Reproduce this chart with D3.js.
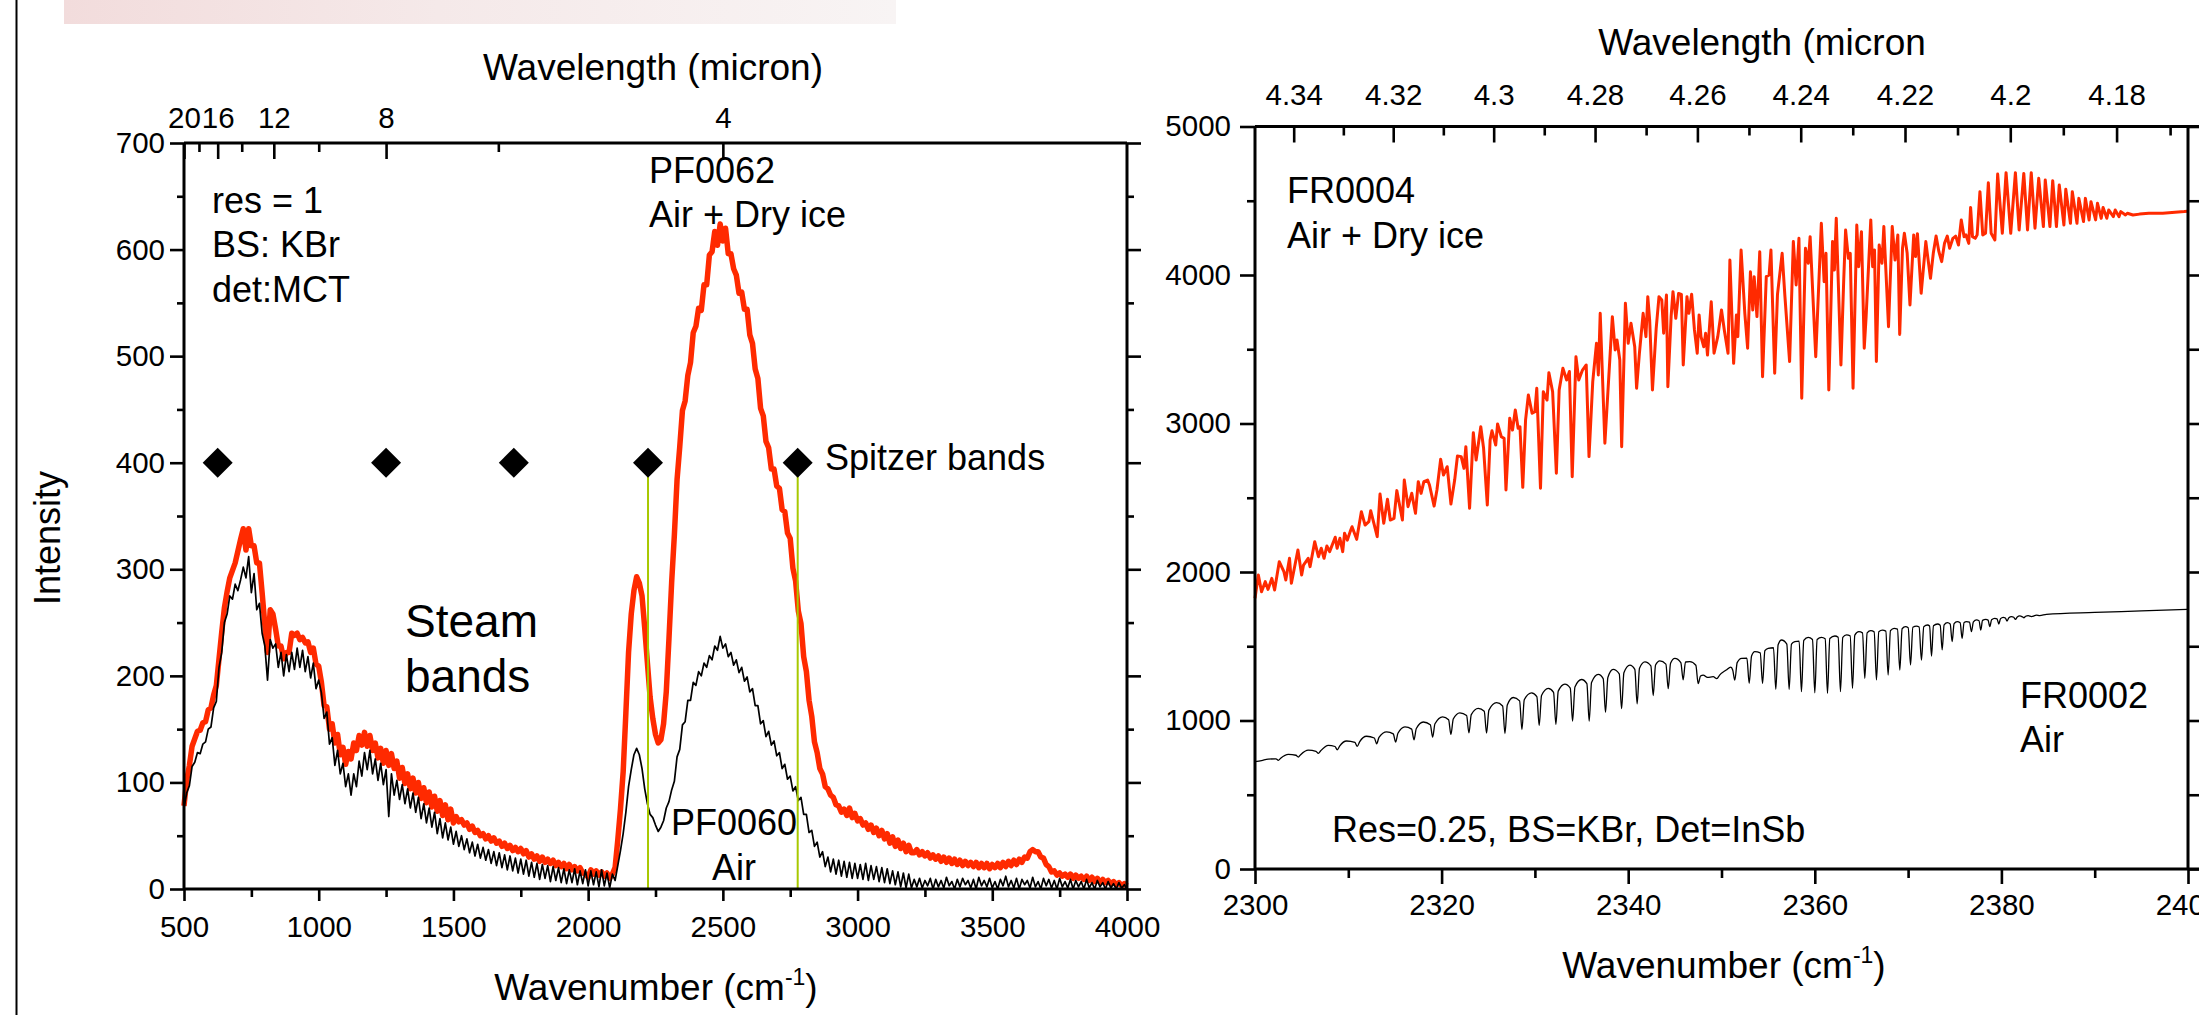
<!DOCTYPE html>
<html>
<head>
<meta charset="utf-8">
<script src="https://cdn.jsdelivr.net/npm/d3@7"></script>
<style>
  body { margin: 0; background: #fff; }
  svg { display: block; }
</style>
</head>
<body>
<svg id="chart" width="2199" height="1015"></svg>
<script>
// ---------- Left panel: broadband spectra, sampled every 10 cm-1 from 500 to 4000 ----------
const broadStart = 500, broadStep = 10;

// PF0060, Air
const pf0060 = [
  76, 90, 97, 115, 119, 128, 127, 136, 138, 150, 152, 170, 176, 208, 222, 250, 258, 275, 272, 286, 280,
  290, 302, 292, 312, 278, 296, 262, 268, 240, 228, 196, 234, 226, 230, 208, 222, 200, 220, 204, 222,
  206, 226, 208, 224, 204, 218, 198, 212, 188, 196,
  184, 160, 166, 136, 142, 116, 130, 108, 118, 96, 108, 88, 108, 96, 120, 106, 128, 112, 130, 108,
  122, 102, 118, 98, 112, 68, 108, 88, 102, 84, 98, 80, 94, 76, 90, 72, 86, 66, 80, 62,
  76, 58, 72, 52, 66, 48, 62, 46, 58, 42,
  54, 40, 50, 37, 47, 34, 44, 31, 42, 29, 39, 27, 37, 24, 35, 22, 34, 20, 32, 18,
  31, 17, 29, 15, 28, 14, 27, 12, 25, 11, 24, 9, 23, 10, 22, 7, 21, 8, 20, 6,
  19, 5, 18, 6, 19, 4, 17, 5, 18, 3, 17, 4, 16, 2, 18, 3, 15, 1, 14, 8,
  22, 36, 52, 72, 96, 112, 126, 132, 126, 113, 94, 80, 70, 67, 60, 54, 58, 64, 76, 82,
  93, 101, 124, 131, 154, 157, 177, 177, 194, 191, 204, 200, 212, 208, 219, 215, 228, 224, 237, 226,
  230, 218, 222, 210, 215, 203, 208, 195, 199, 185, 188, 172, 172, 155, 158, 143, 148, 135, 139, 125,
  128, 113, 117, 103, 106, 92, 96, 83, 86, 70,
  70, 53, 55, 40, 44, 30, 35, 21, 30, 16, 28, 14, 27, 12, 26, 11, 25, 10, 24, 10,
  23, 9, 24, 8, 22, 9, 21, 7, 20, 6, 19, 5, 17, 4, 16, 2, 15, 1, 14, 1,
  9, 2, 10, 1, 8, 3, 10, 0, 9, 2, 8, 1, 11, 3, 7, 0, 9, 2, 10, 4,
  8, 1, 9, 0, 11, 3, 8, 2, 10, 1, 7, 0, 9, 3, 12, 2, 8, 1, 10, 0,
  9, 4, 8, 1, 11, 2, 7, 0, 10, 3, 9, 1, 8, 0, 10, 2, 7, 1, 9, 0,
  8, 2, 7, 0, 9, 1, 6, 0, 8, 2, 6, 0, 7, 1, 5, 0, 6, 1, 4, 0
];

// PF0062, Air + Dry ice
const pf0062 = [
  78, 102, 116, 134, 141, 148, 149, 156, 157, 168, 170, 182, 191, 216, 241, 264, 279, 292, 299, 306, 317,
  328, 338, 318, 338, 322, 322, 306, 306, 278, 248, 222, 262, 258, 244, 228, 228, 216, 222, 222, 240,
  238, 240, 234, 236, 231, 232, 222, 226, 211, 209,
  194, 172, 171, 150, 155, 137, 145, 126, 133, 117, 129, 122, 137, 130, 144, 135, 147, 134, 144, 130,
  137, 123, 132, 118, 130, 116, 127, 113, 120, 104, 114, 99, 108, 94, 104, 90, 100, 85, 95, 81,
  91, 77, 87, 73, 83, 69, 79, 65, 75, 62,
  68, 63, 65, 60, 62, 56, 59, 53, 55, 50, 52, 47, 50, 45, 48, 43, 45, 40, 43, 38,
  41, 36, 39, 35, 38, 33, 36, 30, 33, 28, 31, 26, 30, 25, 28, 24, 27, 22, 25, 21,
  24, 19, 23, 18, 21, 17, 20, 15, 14, 11, 18, 14, 17, 13, 16, 12, 15, 10, 14, 20,
  46, 75, 110, 165, 222, 258, 280, 293, 287, 275, 245, 212, 180, 160, 145, 137, 140, 155, 185, 235,
  288, 332, 384, 415, 449, 458, 482, 494, 522, 528, 545, 543, 567, 567, 595, 598, 617, 604, 624, 608,
  620, 596, 596, 582, 576, 559, 560, 544, 544, 520, 512, 488, 479, 451, 444, 420, 414, 394, 394, 378,
  376, 356, 354, 334, 329, 301, 289, 261, 249, 218,
  204, 177, 162, 138, 128, 113, 108, 96, 94, 88, 86, 79, 78, 72, 75, 69, 76, 67, 71, 64,
  66, 60, 62, 56, 60, 53, 57, 50, 55, 47, 52, 43, 49, 40, 46, 38, 43, 35, 41, 34,
  34, 37, 32, 35, 31, 34, 29, 32, 28, 31, 26, 30, 25, 29, 24, 28, 23, 27, 22, 26,
  22, 25, 21, 25, 20, 24, 20, 24, 19, 23, 20, 24, 20, 25, 21, 26, 22, 27, 23, 28,
  25, 30, 29, 35, 37, 35, 35, 30, 29, 23, 21, 16, 17, 13, 15, 12, 14, 11, 14, 10,
  13, 10, 12, 9, 12, 8, 11, 7, 10, 6, 9, 6, 8, 5, 7, 4, 6, 3, 5, 3
];

// Spitzer band centres (micron) marked at intensity 400
const spitzerBands = [16, 8, 5.8, 4.5, 3.6];
const spitzerLevel = 400;
const spitzerLines = [4.5, 3.6];

// Left panel tick sets
const leftBottomMajor = [500, 1000, 1500, 2000, 2500, 3000, 3500, 4000];
const leftBottomMinor = [750, 1250, 1750, 2250, 2750, 3250, 3750];
const leftYMajor = [0, 100, 200, 300, 400, 500, 600, 700];
const leftYMinor = [50, 150, 250, 350, 450, 550, 650];
const leftTopMajor = [20, 16, 12, 8, 4];      // micron
const leftTopMinor = [18, 14, 10, 6];

// ---------- Right panel: high resolution CO2 band, [wavenumber, intensity] ----------
const fr0004 = [
  [2300.0,1823],[2300.36,1980],[2300.7,1867],[2301.1,1935],[2301.4,1883],[2301.8,1957],[2302.1,1879],
  [2302.6,2069],[2303.1,2002],[2303.3,1946],[2303.7,2092],[2303.9,1924],[2304.6,2148],[2305.0,1980],
  [2305.2,2047],[2305.7,2092],[2305.9,2036],[2306.4,2204],[2306.8,2103],[2307.1,2160],[2307.4,2092],
  [2307.7,2175],[2308.0,2137],[2308.6,2234],[2308.8,2160],[2309.1,2227],[2309.4,2137],[2309.6,2261],
  [2309.9,2215],[2310.2,2272],[2310.4,2305],[2310.9,2220],[2311.4,2406],[2311.8,2316],[2312.2,2339],
  [2312.4,2413],[2313.1,2238],[2313.4,2525],[2313.8,2328],[2314.2,2490],[2314.5,2350],[2314.9,2361],
  [2315.2,2548],[2315.8,2350],[2316.0,2619],[2316.4,2440],[2316.8,2530],[2317.2,2395],[2317.5,2608],
  [2317.8,2530],[2318.1,2608],[2318.5,2619],[2318.7,2586],[2319.2,2444],[2319.5,2552],[2319.9,2759],
  [2320.2,2653],[2320.6,2709],[2321.0,2458],[2321.4,2619],[2321.7,2781],[2322.1,2777],[2322.4,2698],
  [2322.6,2844],[2323.0,2429],[2323.4,2938],[2323.7,2754],[2324.2,2978],[2324.5,2833],[2324.9,2451],
  [2325.2,2889],[2325.4,2951],[2325.8,2855],[2326.0,2997],[2326.4,2911],[2326.7,2900],[2326.9,2552],
  [2327.3,3035],[2327.6,2956],[2327.9,3091],[2328.2,2968],[2328.4,2978],[2328.7,2570],[2329.0,3024],
  [2329.3,3192],[2329.7,3069],[2330.0,3080],[2330.2,3237],[2330.6,2564],[2330.9,3214],[2331.3,3158],
  [2331.5,3342],[2331.9,3214],[2332.3,2665],[2332.6,3226],[2333.0,3372],[2333.4,3293],[2333.7,3350],
  [2334.0,2642],[2334.4,3450],[2334.7,3293],[2335.1,3360],[2335.5,3394],[2335.8,2777],[2336.2,3282],
  [2336.6,3540],[2336.8,3327],[2337.0,3742],[2337.5,2867],[2337.9,3293],[2338.3,3719],[2338.6,3495],
  [2338.8,3562],[2339.1,3428],[2339.3,2844],[2339.7,3809],[2340.0,3540],[2340.3,3675],[2340.7,3517],
  [2340.9,3237],[2341.2,3473],[2341.6,3742],[2341.9,3585],[2342.1,3854],[2342.3,3697],[2342.6,3226],
  [2343.0,3641],[2343.3,3854],[2343.6,3832],[2343.8,3608],[2344.1,3865],[2344.25,3248],[2344.6,3719],
  [2344.8,3888],[2345.1,3708],[2345.4,3876],[2345.7,3870],[2345.9,3394],[2346.3,3854],[2346.5,3742],
  [2346.8,3870],[2347.1,3630],[2347.4,3473],[2347.6,3731],[2347.8,3585],[2348.1,3517],[2348.3,3608],
  [2348.5,3461],[2348.9,3820],[2349.2,3473],[2349.6,3585],[2350.0,3764],[2350.3,3630],[2350.7,3473],
  [2350.9,4101],[2351.3,3405],[2351.6,3731],[2351.75,3585],[2352.1,4168],[2352.5,3742],[2352.8,3507],
  [2353.1,4022],[2353.35,3764],[2353.5,3989],[2353.8,3720],[2354.1,4157],[2354.4,3315],[2354.8,3989],
  [2355.1,4000],[2355.3,4168],[2355.7,3338],[2356.0,3870],[2356.5,4146],[2356.8,3854],[2357.3,3417],
  [2357.7,4225],[2358.0,3933],[2358.3,4247],[2358.6,3170],[2359.0,4180],[2359.3,4079],[2359.5,4258],
  [2360.1,3450],[2360.7,4348],[2361.0,3955],[2361.2,4146],[2361.5,3226],[2361.9,4225],[2362.1,4034],
  [2362.3,4382],[2362.8,3394],[2363.1,3966],[2363.3,4303],[2363.6,4112],[2363.8,4146],[2364.1,3237],
  [2364.5,4337],[2364.7,4056],[2365.0,4292],[2365.3,3507],[2365.5,3720],[2366.0,4371],[2366.2,4056],
  [2366.4,4168],[2366.6,3417],[2366.9,4202],[2367.2,4079],[2367.4,4326],[2367.9,3652],[2368.3,4326],
  [2368.6,4101],[2368.9,4270],[2369.1,3600],[2369.4,4180],[2369.6,4281],[2369.9,4146],[2370.2,3798],
  [2370.6,4270],[2370.8,4124],[2371.0,4278],[2371.4,3877],[2371.9,4225],[2372.1,4124],[2372.4,3978],
  [2372.7,4146],[2373.0,4262],[2373.3,4157],[2373.6,4090],[2373.9,4213],[2374.2,4262],[2374.45,4180],
  [2374.8,4247],[2375.1,4262],[2375.4,4202],[2375.7,4371],[2376.0,4258],[2376.2,4270],[2376.5,4213],
  [2376.7,4455],[2376.9,4258],[2377.2,4247],[2377.4,4270],[2377.7,4561],[2378.0,4270],[2378.3,4281],
  [2378.6,4621],[2378.9,4281],[2379.3,4236],[2379.6,4680],[2380.1,4281],[2380.5,4689],[2381.0,4281],
  [2381.5,4689],[2381.9,4303],[2382.4,4684],[2382.8,4303],[2383.2,4689],[2383.6,4315],[2384.0,4651],
  [2384.5,4326],[2384.7,4640],[2385.2,4326],[2385.5,4635],[2385.9,4326],[2386.2,4606],[2386.7,4337],
  [2386.9,4577],[2387.4,4348],[2387.6,4561],[2388.1,4348],[2388.3,4516],[2388.8,4360],[2389.0,4516],
  [2389.4,4371],[2389.6,4494],[2390.1,4371],[2390.3,4483],[2390.7,4382],[2390.9,4455],[2391.3,4382],
  [2391.5,4438],[2392.0,4393],[2392.2,4438],[2392.6,4393],[2392.8,4427],[2393.3,4404],[2393.5,4416],
  [2394.1,4404],[2394.8,4410],[2395.8,4416],[2397.3,4416],[2399.6,4427],[2400.0,4430]
];

const fr0002 = [
  [2300.0,723],[2300.7,730],[2301.4,740],
  [2302.25,742],[2302.5,732],[2302.75,746],[2303.57,772],
  [2304.39,766],[2304.64,754],[2304.89,770],[2305.71,800],
  [2306.54,792],[2306.79,778],[2307.04,796],[2307.86,833],
  [2308.57,825],[2308.82,803],[2309.07,828],[2309.82,862],
  [2310.71,852],[2310.96,826],[2311.21,856],[2311.96,894],
  [2312.79,882],[2313.04,843],[2313.29,886],[2314.11,924],
  [2314.82,910],[2315.07,855],[2315.32,914],[2316.07,957],
  [2316.79,942],[2317.04,870],[2317.29,946],[2318.04,990],
  [2318.79,972],[2319.04,888],[2319.29,978],[2320.11,1025],
  [2320.75,1005],[2321.0,906],[2321.25,1010],[2321.96,1052],
  [2322.68,1034],[2322.93,916],[2323.18,1040],[2323.93,1082],
  [2324.57,1062],[2324.82,915],[2325.07,1070],[2325.89,1120],
  [2326.54,1098],[2326.79,912],[2327.04,1105],[2327.68,1155],
  [2328.36,1132],[2328.61,938],[2328.86,1140],[2329.64,1186],
  [2330.21,1160],[2330.46,966],[2330.71,1168],[2331.43,1216],
  [2332.0,1190],[2332.25,974],[2332.5,1198],[2333.21,1245],
  [2333.79,1218],[2334.04,996],[2334.29,1226],[2335.0,1276],
  [2335.57,1248],[2335.82,996],[2336.07,1256],[2336.79,1310],
  [2337.32,1282],[2337.57,1056],[2337.82,1290],[2338.39,1344],
  [2339.04,1314],[2339.29,1080],[2339.54,1322],[2340.18,1373],
  [2340.71,1344],[2340.96,1112],[2341.21,1352],[2341.79,1395],
  [2342.43,1368],[2342.68,1168],[2342.93,1374],[2343.39,1402],
  [2344.04,1380],[2344.29,1214],[2344.54,1386],[2345.0,1418],
  [2345.64,1390],[2345.89,1274],[2346.14,1394],[2346.61,1396],
  [2347.25,1372],[2347.5,1248],[2347.75,1300],
  [2348.04,1306],[2348.5,1290],[2349.11,1295],[2349.5,1282],[2349.8,1306],[2350.5,1340],[2351.0,1360],
  [2351.2,1340],[2351.43,1272],[2351.68,1390],[2352.15,1419],
  [2352.72,1420],[2352.97,1250],[2353.22,1435],[2353.57,1464],
  [2354.15,1455],[2354.4,1250],[2354.65,1470],[2355.0,1486],
  [2355.57,1490],[2355.82,1210],[2356.07,1510],[2356.43,1542],
  [2357.0,1515],[2357.25,1210],[2357.5,1515],[2357.86,1531],
  [2358.32,1535],[2358.57,1194],[2358.82,1540],[2359.29,1560],
  [2359.75,1545],[2360.0,1187],[2360.25,1545],[2360.72,1560],
  [2361.11,1550],[2361.36,1183],[2361.61,1552],[2362.15,1569],
  [2362.5,1560],[2362.75,1194],[2363.0,1560],[2363.4,1576],
  [2363.79,1570],[2364.04,1217],[2364.29,1575],[2364.72,1598],
  [2365.11,1590],[2365.36,1284],[2365.61,1590],[2366.0,1605],
  [2366.36,1597],[2366.61,1273],[2366.86,1598],[2367.25,1609],
  [2367.61,1602],[2367.86,1306],[2368.11,1605],[2368.5,1621],
  [2368.86,1615],[2369.11,1340],[2369.36,1618],[2369.72,1632],
  [2370.01,1625],[2370.26,1374],[2370.51,1628],[2370.9,1636],
  [2371.18,1630],[2371.43,1407],[2371.68,1632],[2372.08,1643],
  [2372.3,1636],[2372.51,1434],[2372.72,1638],[2373.15,1650],
  [2373.44,1642],[2373.65,1475],[2373.86,1644],[2374.22,1659],
  [2374.51,1650],[2374.72,1531],[2374.93,1652],[2375.26,1666],
  [2375.58,1658],[2375.79,1553],[2376.0,1660],[2376.26,1666],
  [2376.58,1662],[2376.79,1598],[2377.0,1664],[2377.33,1677],
  [2377.6,1672],[2377.79,1609],[2377.98,1674],[2378.33,1681],
  [2378.57,1676],[2378.76,1632],[2378.95,1678],[2379.29,1688],
  [2379.53,1684],[2379.72,1650],[2379.91,1686],[2380.19,1695],
  [2380.42,1690],[2380.61,1670],[2380.8,1692],[2381.08,1699],
  [2381.32,1695],[2381.51,1681],[2381.7,1697],[2381.97,1704],
  [2382.2,1700],[2382.4,1692],[2382.6,1702],[2382.87,1706],
  [2383.22,1700],[2383.76,1710],[2384.11,1706],[2384.83,1715],
  [2390.0,1728],[2395.0,1738],[2400.0,1749]
];

// Right panel tick sets
const rightBottomMajor = [2300, 2320, 2340, 2360, 2380, 2400];
const rightBottomMinor = [2310, 2330, 2350, 2370, 2390];
const rightYMajor = [0, 1000, 2000, 3000, 4000, 5000];
const rightYMinor = [500, 1500, 2500, 3500, 4500];
const rightTopMajor = [4.34, 4.32, 4.30, 4.28, 4.26, 4.24, 4.22, 4.20, 4.18];   // micron
const rightTopMinor = [4.33, 4.31, 4.29, 4.27, 4.25, 4.23, 4.21, 4.19, 4.17];

// ---------- drawing ----------
const FONT = '"Liberation Sans", Arial, Helvetica, sans-serif';
const RED = "#ff2a00";
const GREEN = "#a8c800";
const svg = d3.select("#chart");

// faint strip along the top left of the page
const grad = svg.append("defs").append("linearGradient").attr("id", "strip");
grad.append("stop").attr("offset", "0%").attr("stop-color", "#f2dcdc");
grad.append("stop").attr("offset", "45%").attr("stop-color", "#f5e9e9");
grad.append("stop").attr("offset", "100%").attr("stop-color", "#f8f4f4");
svg.append("rect").attr("x", 64).attr("y", 0).attr("width", 832).attr("height", 24)
  .attr("fill", "url(#strip)");

// page edge rule
svg.append("line").attr("x1", 16.5).attr("x2", 16.5).attr("y1", 0).attr("y2", 1015)
  .attr("stroke", "#000").attr("stroke-width", 2);

function styleAxis(g, size) {
  g.select(".domain").remove();
  g.selectAll(".tick line").attr("stroke", "#000").attr("stroke-width", 2.6);
  g.selectAll(".tick text").attr("font-family", FONT).attr("font-size", size || 29.5).attr("fill", "#000");
}

function addText(x, y, str, size, anchor) {
  return svg.append("text").attr("x", x).attr("y", y).text(str)
    .attr("font-family", FONT).attr("font-size", size).attr("fill", "#000")
    .attr("text-anchor", anchor || "start");
}

function wavenumberTitle(cx, y) {
  const t = svg.append("text").attr("x", cx).attr("y", y).attr("text-anchor", "middle")
    .attr("font-family", FONT).attr("font-size", 37).attr("fill", "#000");
  t.append("tspan").text("Wavenumber (cm");
  t.append("tspan").text("-1").attr("font-size", 23).attr("dy", -15);
  t.append("tspan").text(")").attr("dy", 15);
}

// ===== Left panel =====
const xL = d3.scaleLinear().domain([500, 4000]).range([184, 1127]);
const yL = d3.scaleLinear().domain([0, 700]).range([889, 143]);
const broadWn = d3.range(pf0060.length).map(i => broadStart + i * broadStep);

const lineL = d3.line().x(d => xL(d[0])).y(d => yL(d[1]));
svg.append("path").datum(broadWn.map((w, i) => [w, pf0062[i]]))
  .attr("d", lineL).attr("fill", "none").attr("stroke", RED).attr("stroke-width", 5.5)
  .attr("stroke-linejoin", "round");
svg.append("path").datum(broadWn.map((w, i) => [w, pf0060[i]]))
  .attr("d", lineL).attr("fill", "none").attr("stroke", "#000").attr("stroke-width", 1.7)
  .attr("stroke-linejoin", "round");

// Spitzer band guides and markers
svg.selectAll("line.band").data(spitzerLines).join("line").attr("class", "band")
  .attr("x1", d => xL(1e4 / d)).attr("x2", d => xL(1e4 / d))
  .attr("y1", yL(spitzerLevel)).attr("y2", yL(0))
  .attr("stroke", GREEN).attr("stroke-width", 2);
svg.selectAll("path.band").data(spitzerBands).join("path").attr("class", "band")
  .attr("d", d3.symbol(d3.symbolSquare, 450))
  .attr("transform", d => `translate(${xL(1e4 / d)},${yL(spitzerLevel)}) rotate(45)`)
  .attr("fill", "#000");

// frame
const frameL = svg.append("g").attr("stroke", "#000").attr("stroke-width", 3);
frameL.append("line").attr("x1", 184).attr("x2", 184).attr("y1", 143).attr("y2", 889);
frameL.append("line").attr("x1", 1127).attr("x2", 1127).attr("y1", 143).attr("y2", 889);
frameL.append("line").attr("x1", 184).attr("x2", 1127).attr("y1", 889).attr("y2", 889);
frameL.append("line").attr("x1", 184).attr("x2", 1127).attr("y1", 143).attr("y2", 143);

// bottom axis
svg.append("g").attr("transform", "translate(0,889)")
  .call(d3.axisBottom(xL).tickValues(leftBottomMajor).tickSize(12).tickPadding(15).tickFormat(d3.format("d")))
  .call(styleAxis);
svg.append("g").attr("transform", "translate(0,889)")
  .call(d3.axisBottom(xL).tickValues(leftBottomMinor).tickSize(8).tickFormat(""))
  .call(styleAxis);
// left axis
svg.append("g").attr("transform", "translate(184,0)")
  .call(d3.axisLeft(yL).tickValues(leftYMajor).tickSize(14).tickPadding(5).tickFormat(d3.format("d")))
  .call(styleAxis);
svg.append("g").attr("transform", "translate(184,0)")
  .call(d3.axisLeft(yL).tickValues(leftYMinor).tickSize(7).tickFormat(""))
  .call(styleAxis);
// right side ticks
svg.append("g").attr("transform", "translate(1127,0)")
  .call(d3.axisRight(yL).tickValues(leftYMajor).tickSize(14).tickFormat(""))
  .call(styleAxis);
svg.append("g").attr("transform", "translate(1127,0)")
  .call(d3.axisRight(yL).tickValues(leftYMinor).tickSize(7).tickFormat(""))
  .call(styleAxis);
// top wavelength axis
svg.append("g").attr("transform", "translate(0,143)")
  .call(d3.axisTop(xL).tickValues(leftTopMajor.map(l => 1e4 / l)).tickSize(-16).tickPadding(15)
    .tickFormat(d => String(Math.round(1e4 / d))))
  .call(styleAxis);
svg.append("g").attr("transform", "translate(0,143)")
  .call(d3.axisTop(xL).tickValues(leftTopMinor.map(l => 1e4 / l)).tickSize(-9).tickFormat(""))
  .call(styleAxis);

addText(653, 80, "Wavelength (micron)", 37, "middle");
wavenumberTitle(656, 1000);
svg.append("text").attr("transform", "translate(60,538) rotate(-90)").attr("text-anchor", "middle")
  .attr("font-family", FONT).attr("font-size", 36).attr("fill", "#000").text("Intensity");

addText(212, 213, "res = 1", 36);
addText(212, 257, "BS: KBr", 36);
addText(212, 302, "det:MCT", 36);
addText(649, 183, "PF0062", 36);
addText(649, 227, "Air + Dry ice", 36);
addText(825, 470, "Spitzer bands", 36);
addText(405, 637, "Steam", 46);
addText(405, 692, "bands", 46);
addText(734, 835, "PF0060", 36, "middle");
addText(734, 880, "Air", 36, "middle");

// ===== Right panel =====
const xR = d3.scaleLinear().domain([2300, 2400]).range([1255, 2188]);
const yR = d3.scaleLinear().domain([0, 5000]).range([869, 126.5]);
const lineR = d3.line().x(d => xR(d[0])).y(d => yR(d[1]));

svg.append("path").datum(fr0004).attr("d", lineR).attr("fill", "none")
  .attr("stroke", RED).attr("stroke-width", 3).attr("stroke-linejoin", "round");
svg.append("path").datum(fr0002).attr("d", lineR.curve(d3.curveMonotoneX)).attr("fill", "none")
  .attr("stroke", "#000").attr("stroke-width", 1.3);

const frameR = svg.append("g").attr("stroke", "#000").attr("stroke-width", 3);
frameR.append("line").attr("x1", 1255).attr("x2", 1255).attr("y1", 126.5).attr("y2", 869);
frameR.append("line").attr("x1", 2188).attr("x2", 2188).attr("y1", 126.5).attr("y2", 869);
frameR.append("line").attr("x1", 1255).attr("x2", 2199).attr("y1", 869).attr("y2", 869);
frameR.append("line").attr("x1", 1255).attr("x2", 2199).attr("y1", 126.5).attr("y2", 126.5);

svg.append("g").attr("transform", "translate(0,869)")
  .call(d3.axisBottom(xR).tickValues(rightBottomMajor).tickSize(15).tickPadding(10).tickFormat(d3.format("d")))
  .call(styleAxis);
svg.append("g").attr("transform", "translate(0,869)")
  .call(d3.axisBottom(xR).tickValues(rightBottomMinor).tickSize(9).tickFormat(""))
  .call(styleAxis);
svg.append("g").attr("transform", "translate(1255,0)")
  .call(d3.axisLeft(yR).tickValues(rightYMajor).tickSize(15).tickPadding(9).tickFormat(d3.format("d")))
  .call(styleAxis);
svg.append("g").attr("transform", "translate(1255,0)")
  .call(d3.axisLeft(yR).tickValues(rightYMinor).tickSize(8).tickFormat(""))
  .call(styleAxis);
svg.append("g").attr("transform", "translate(2188,0)")
  .call(d3.axisRight(yR).tickValues(rightYMajor.concat(rightYMinor)).tickSize(11).tickFormat(""))
  .call(styleAxis);
svg.append("g").attr("transform", "translate(0,126.5)")
  .call(d3.axisTop(xR).tickValues(rightTopMajor.map(l => 1e4 / l)).tickSize(-16).tickPadding(22)
    .tickFormat(d => String(+(1e4 / d).toFixed(2))))
  .call(styleAxis);
svg.append("g").attr("transform", "translate(0,126.5)")
  .call(d3.axisTop(xR).tickValues(rightTopMinor.map(l => 1e4 / l)).tickSize(-9).tickFormat(""))
  .call(styleAxis);

addText(1762, 55, "Wavelength (micron", 37, "middle");
wavenumberTitle(1724, 978);
addText(1287, 203, "FR0004", 36);
addText(1287, 248, "Air + Dry ice", 36);
addText(2020, 708, "FR0002", 36);
addText(2020, 752, "Air", 36);
addText(1332, 842, "Res=0.25, BS=KBr, Det=InSb", 36);
</script>
</body>
</html>
